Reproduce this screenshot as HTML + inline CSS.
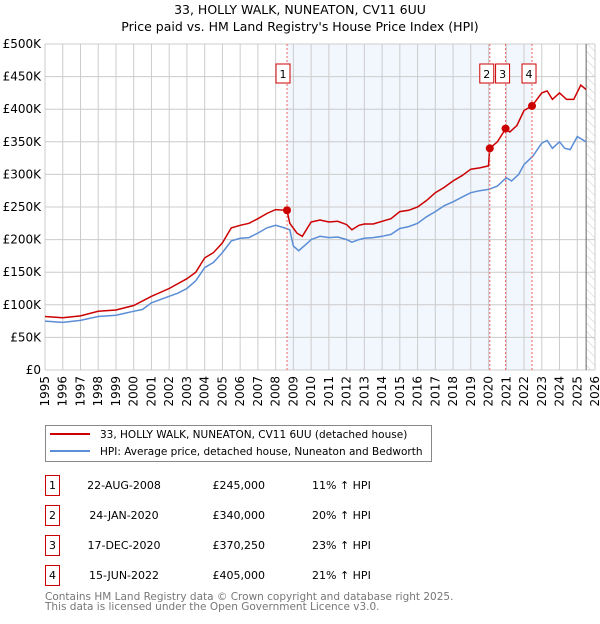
<!DOCTYPE html>
<html><head><meta charset="utf-8"><style>
body{margin:0;background:#fff;font-family:"DejaVu Sans","Liberation Sans",sans-serif;}
svg text{font-family:"DejaVu Sans","Liberation Sans",sans-serif;}
</style></head><body>
<svg id="c" width="600" height="620" xmlns="http://www.w3.org/2000/svg">
<defs><pattern id="hatch" width="6" height="6" patternUnits="userSpaceOnUse" patternTransform="rotate(-45)"><line x1="0" y1="0" x2="0" y2="6" stroke="#ccc" stroke-width="1"/></pattern></defs>
<text x="300" y="14" text-anchor="middle" font-size="12.5">33, HOLLY WALK, NUNEATON, CV11 6UU</text>
<text x="300" y="31" text-anchor="middle" font-size="12.5">Price paid vs. HM Land Registry's House Price Index (HPI)</text>
<g id="bg"></g><g id="grid"></g><g id="lines"></g><g id="marks"></g><g id="axes"></g>
<g>
<rect x="45.5" y="425.5" width="386" height="36" fill="#fff" stroke="#888"/>
<line x1="50" y1="434" x2="90" y2="434" stroke="#cc0000" stroke-width="2"/>
<text x="100" y="438" font-size="10.5">33, HOLLY WALK, NUNEATON, CV11 6UU (detached house)</text>
<line x1="50" y1="451" x2="90" y2="451" stroke="#5b8ed6" stroke-width="2"/>
<text x="100" y="455" font-size="10.5">HPI: Average price, detached house, Nuneaton and Bedworth</text>
</g>
<g id="table" font-size="11"></g>
<text x="45" y="600" font-size="10.5" fill="#777">Contains HM Land Registry data © Crown copyright and database right 2025.</text>
<text x="45" y="610" font-size="10.5" fill="#777">This data is licensed under the Open Government Licence v3.0.</text>
</svg>
<script>
const hpiYears=[1995,1996,1997,1998,1999,2000,2000.5,2001,2002,2002.5,2003,2003.5,2004,2004.5,2005,2005.5,2006,2006.5,2007,2007.5,2008,2008.5,2008.8,2009,2009.3,2009.8,2010,2010.5,2011,2011.5,2012,2012.3,2012.7,2013,2013.5,2014,2014.5,2015,2015.5,2016,2016.5,2017,2017.5,2018,2018.5,2019,2019.5,2020,2020.5,2021,2021.3,2021.7,2022,2022.5,2023,2023.3,2023.6,2024,2024.3,2024.6,2025,2025.5];
const hpiValues=[75,73,76,82,84,90,93,103,113,118,125,137,157,165,180,198,202,203,210,218,222,218,215,190,183,195,200,205,203,204,200,196,200,202,203,205,208,217,220,225,235,243,252,258,265,272,275,277,282,295,290,300,315,328,348,352,340,350,340,338,358,350];
const propYears=[1995,1996,1997,1998,1999,2000,2001,2002,2003,2003.5,2004,2004.5,2005,2005.5,2006,2006.5,2007,2007.5,2008,2008.64,2008.8,2009.2,2009.5,2010,2010.5,2011,2011.5,2012,2012.3,2012.7,2013,2013.5,2014,2014.5,2015,2015.5,2016,2016.5,2017,2017.5,2018,2018.5,2019,2019.5,2020,2020.07,2020.5,2020.96,2021.2,2021.6,2022,2022.45,2023,2023.3,2023.6,2024,2024.4,2024.8,2025.2,2025.5];
const propValues=[82,80,83,90,92,99,113,125,140,150,172,180,195,218,222,225,232,240,246,245,225,210,205,227,230,227,228,223,215,222,224,224,228,232,243,245,250,260,272,280,290,298,308,310,313,340,350,370,365,375,398,405,425,428,415,425,415,415,437,430];
const saleLabels=["1","2","3","4"];
const saleYears=[2008.64,2020.07,2020.96,2022.45];
const salePrices=[245,340,370.25,405];
const saleDates=["22-AUG-2008","24-JAN-2020","17-DEC-2020","15-JUN-2022"];
const salePriceText=["£245,000","£340,000","£370,250","£405,000"];
const saleHpiText=["11% ↑ HPI","20% ↑ HPI","23% ↑ HPI","21% ↑ HPI"];
const yTicks=[0,50,100,150,200,250,300,350,400,450,500];
const yTickLabels=["£0","£50K","£100K","£150K","£200K","£250K","£300K","£350K","£400K","£450K","£500K"];
const xTicks=[1995,1996,1997,1998,1999,2000,2001,2002,2003,2004,2005,2006,2007,2008,2009,2010,2011,2012,2013,2014,2015,2016,2017,2018,2019,2020,2021,2022,2023,2024,2025,2026];
const dataEnd=2025.5;
const X0=45,X1=595,Y0=370,Y1=44;
const xs=y=>X0+(y-1995)/(2026-1995)*(X1-X0);
const ys=v=>Y0-v/500*(Y0-Y1);
const NS="http://www.w3.org/2000/svg";
function mk(p,t,a){const e=document.createElementNS(NS,t);for(const k in a)e.setAttribute(k,a[k]);p.appendChild(e);return e;}
const bg=document.getElementById('bg'),grid=document.getElementById('grid'),lines=document.getElementById('lines'),marks=document.getElementById('marks'),axes=document.getElementById('axes'),table=document.getElementById('table');
const bands=[[0,1],[2,3]];
bands.forEach(b=>{const r=mk(bg,'rect',{x:xs(saleYears[b[0]]),y:Y1,width:xs(saleYears[b[1]])-xs(saleYears[b[0]]),height:Y0-Y1,fill:'#f2f6fd'});

});
const h=mk(bg,'rect',{x:xs(dataEnd),y:Y1,width:X1-xs(dataEnd),height:Y0-Y1,fill:'url(#hatch)'});


yTicks.forEach((v,i)=>{mk(grid,'line',{x1:X0,x2:X1,y1:ys(v),y2:ys(v),stroke:'#ccc'});
const t=mk(axes,'text',{x:X0-4,y:ys(v)+4,'text-anchor':'end','font-size':12});t.textContent=yTickLabels[i];

});
xTicks.forEach(y=>{mk(grid,'line',{x1:xs(y),x2:xs(y),y1:Y1,y2:Y0,stroke:'#ccc'});
const t=mk(axes,'text',{x:0,y:0,'text-anchor':'end','font-size':12,transform:`translate(${xs(y)+4},${Y0+6}) rotate(-90)`});t.textContent=y;

});
mk(grid,'line',{x1:xs(dataEnd),x2:xs(dataEnd),y1:Y1,y2:Y0,stroke:'#666'});
function path(xa,va,col,name){const d=xa.map((y,i)=>(i?'L':'M')+xs(y).toFixed(1)+','+ys(va[i]).toFixed(1)).join('');
const p=mk(lines,'path',{d:d,fill:'none',stroke:col,'stroke-width':1.5});

}
path(hpiYears,hpiValues,'#5b8ed6','hpi-line');
path(propYears,propValues,'#cc0000','property-price-line');
const boxX=[-4,-3,-3,-3];
saleYears.forEach((y,i)=>{mk(marks,'line',{x1:xs(y),x2:xs(y),y1:Y1,y2:Y0,stroke:'#f06060','stroke-dasharray':'2,2'});
const c=mk(marks,'circle',{cx:xs(y),cy:ys(salePrices[i]),r:4,fill:'#cc0000'});


const bx=xs(y)+boxX[i]-7;
const r=mk(marks,'rect',{x:bx,y:64,width:14,height:19,fill:'#fff',stroke:'#cc0000'});


const t=mk(marks,'text',{x:bx+7,y:78,'text-anchor':'middle','font-size':11});t.textContent=saleLabels[i];


const ry=475+i*30;
const tb=mk(table,'rect',{x:45.5,y:ry+0.5,width:14,height:20,fill:'#fff',stroke:'#cc0000'});


const ti=mk(table,'text',{x:52.5,y:ry+14,'text-anchor':'middle'});ti.textContent=saleLabels[i];


const td=mk(table,'text',{x:124,y:ry+14,'text-anchor':'middle'});td.textContent=saleDates[i];


const tp=mk(table,'text',{x:265,y:ry+14,'text-anchor':'end'});tp.textContent=salePriceText[i];


const th=mk(table,'text',{x:312,y:ry+14});th.textContent=saleHpiText[i];

});
</script>
</body></html>
